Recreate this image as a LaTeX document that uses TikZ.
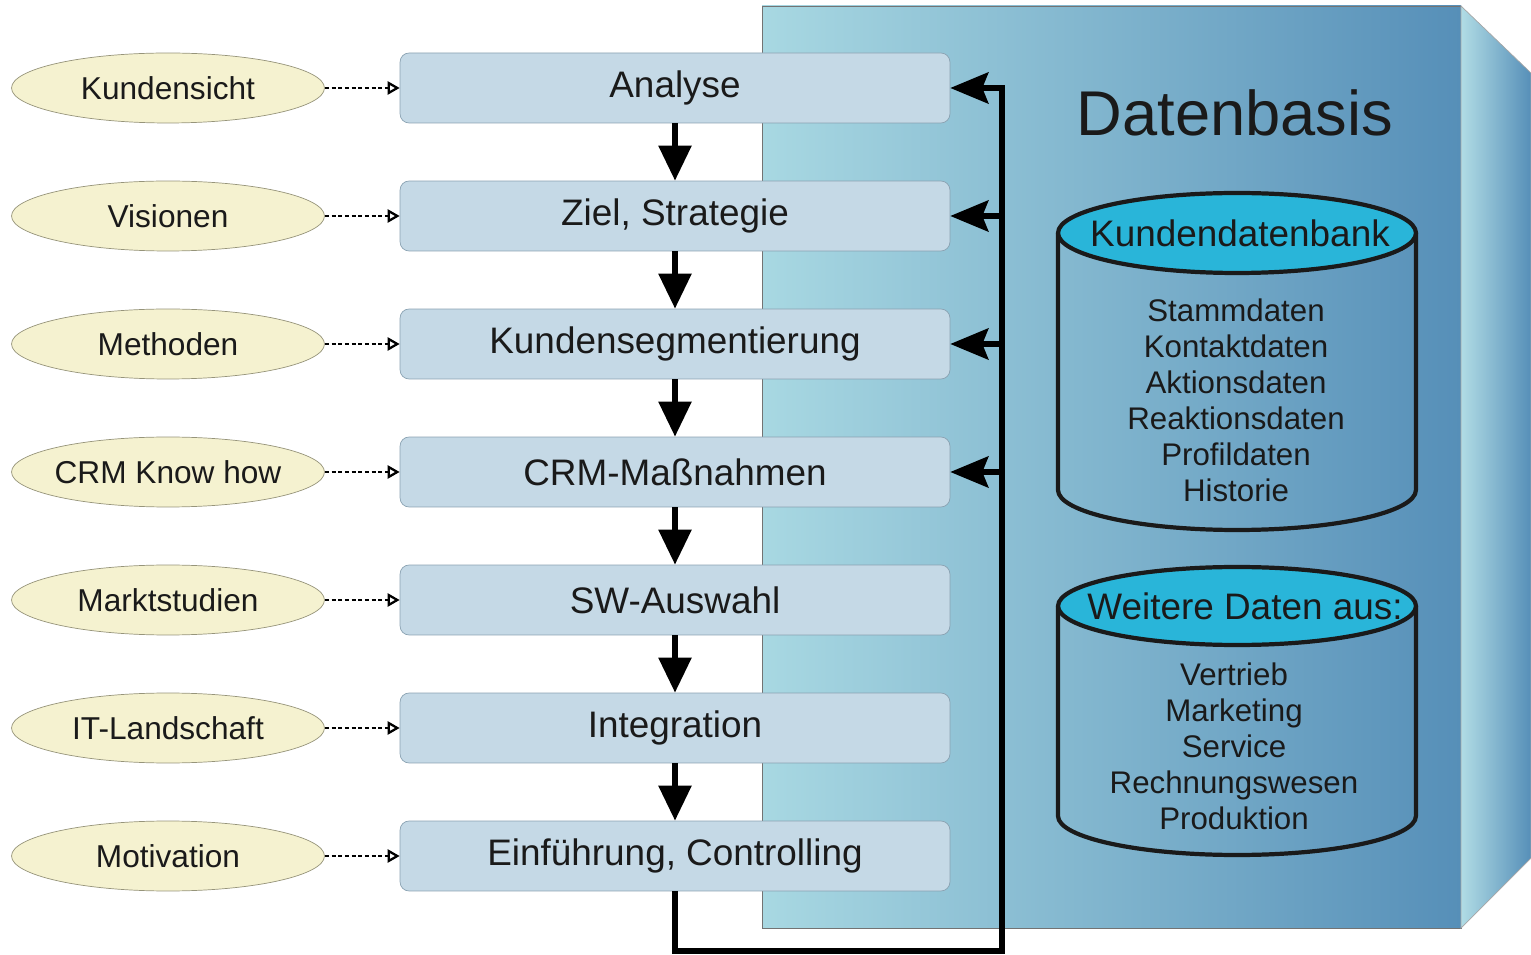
\documentclass[tikz,border=0pt]{standalone}
\usepackage{fontspec}
\setmainfont{Liberation Sans}
\usetikzlibrary{arrows.meta,shapes.geometric}
\usepackage{xcolor}

\definecolor{boxfill}{RGB}{197,217,230}
\definecolor{boxline}{RGB}{138,162,178}
\definecolor{ovalfill}{RGB}{245,242,208}
\definecolor{ovalline}{RGB}{150,148,122}
\definecolor{baselight}{RGB}{168,216,226}
\definecolor{basedark}{RGB}{86,143,184}
\definecolor{dbtop}{RGB}{41,181,217}
\definecolor{ink}{RGB}{26,26,26}

\tikzset{
  stepbox/.style={draw=boxline, fill=boxfill, rounded corners=0.18cm, minimum width=11cm, minimum height=1.4cm, text=ink, font=\fontsize{21}{25}\selectfont},
  source/.style={ellipse, draw=ovalline, fill=ovalfill, minimum width=6.26cm, minimum height=1.4cm, inner ysep=0pt, inner xsep=-0.15cm, text=ink, font=\fontsize{18}{22}\selectfont},
  feed/.style={line width=1.5pt, dash pattern=on 2.4pt off 1.4pt, -{Triangle[open, length=0.24cm, width=0.26cm, line width=1.3pt]}},
  flow/.style={line width=3.2pt, -{Triangle[length=0.7cm, width=0.64cm]}},
  back/.style={line width=3.2pt, -{Stealth[length=0.76cm, width=0.62cm, inset=0.12cm]}},
  dbline/.style={line width=2.4pt, draw=ink},
  dblist/.style={align=center, text=ink, font=\fontsize{17.8}{20.5}\selectfont}
}

\begin{document}
\begin{tikzpicture}[x=0.02cm, y=-0.02cm]
\useasboundingbox (0,0) rectangle (1531,955);

\shade[left color=baselight, right color=basedark, draw=black!55, line width=0.4pt] (762,6) rectangle (1461,928);
\shade[left color=baselight!90!white, right color=basedark, draw=black!35, line width=0.4pt] (1461,6) -- (1531,73) -- (1531,858) -- (1461,928) -- cycle;
\node[text=ink, font=\fontsize{36}{40}\selectfont] (title) at (1235,113) {Datenbasis};

\draw[dbline] (1058,233) -- (1058,490) arc[start angle=180, end angle=360, x radius=3.58cm, y radius=0.8cm] -- (1416,233);
\draw[dbline, fill=dbtop] (1237,233) ellipse[x radius=3.58cm, y radius=0.8cm];
\node[text=ink, font=\fontsize{21}{25}\selectfont] (kdb) at (1240,233) {Kundendatenbank};
\node[dblist] (kdblist) at (1236,400) {Stammdaten\\Kontaktdaten\\Aktionsdaten\\Reaktionsdaten\\Profildaten\\Historie};

\draw[dbline] (1058,606) -- (1058,816) arc[start angle=180, end angle=360, x radius=3.58cm, y radius=0.78cm] -- (1416,606);
\draw[dbline, fill=dbtop] (1237,606) ellipse[x radius=3.58cm, y radius=0.78cm];
\node[text=ink, font=\fontsize{21}{25}\selectfont] (wdb) at (1245,606) {Weitere Daten aus:};
\node[dblist] (wdblist) at (1234,746) {Vertrieb\\Marketing\\Service\\Rechnungswesen\\Produktion};

\node[stepbox] (ana) at (675,88) {Analyse};
\node[stepbox] (ziel) at (675,216) {Ziel, Strategie};
\node[stepbox] (seg) at (675,344) {Kundensegmentierung};
\node[stepbox] (mass) at (675,472) {CRM-Maßnahmen};
\node[stepbox] (sw) at (675,600) {SW-Auswahl};
\node[stepbox] (integ) at (675,728) {Integration};
\node[stepbox] (einf) at (675,856) {Einführung, Controlling};

\node[source] (sicht) at (168,88) {Kundensicht};
\node[source] (vis) at (168,216) {Visionen};
\node[source] (meth) at (168,344) {Methoden};
\node[source] (know) at (168,472) {CRM Know how};
\node[source] (markt) at (168,600) {Marktstudien};
\node[source] (itl) at (168,728) {IT-Landschaft};
\node[source] (moti) at (168,856) {Motivation};

\draw[feed] (sicht) -- (ana);
\draw[feed] (vis) -- (ziel);
\draw[feed] (meth) -- (seg);
\draw[feed] (know) -- (mass);
\draw[feed] (markt) -- (sw);
\draw[feed] (itl) -- (integ);
\draw[feed] (moti) -- (einf);

\draw[flow] (ana) -- (ziel);
\draw[flow] (ziel) -- (seg);
\draw[flow] (seg) -- (mass);
\draw[flow] (mass) -- (sw);
\draw[flow] (sw) -- (integ);
\draw[flow] (integ) -- (einf);

\coordinate (rail) at (1002,951);
\draw[back] (einf.south) |- (rail) |- (ana.east);
\draw[back] (ziel.east -| rail) -- (ziel.east);
\draw[back] (seg.east -| rail) -- (seg.east);
\draw[back] (mass.east -| rail) -- (mass.east);
\end{tikzpicture}
\end{document}
